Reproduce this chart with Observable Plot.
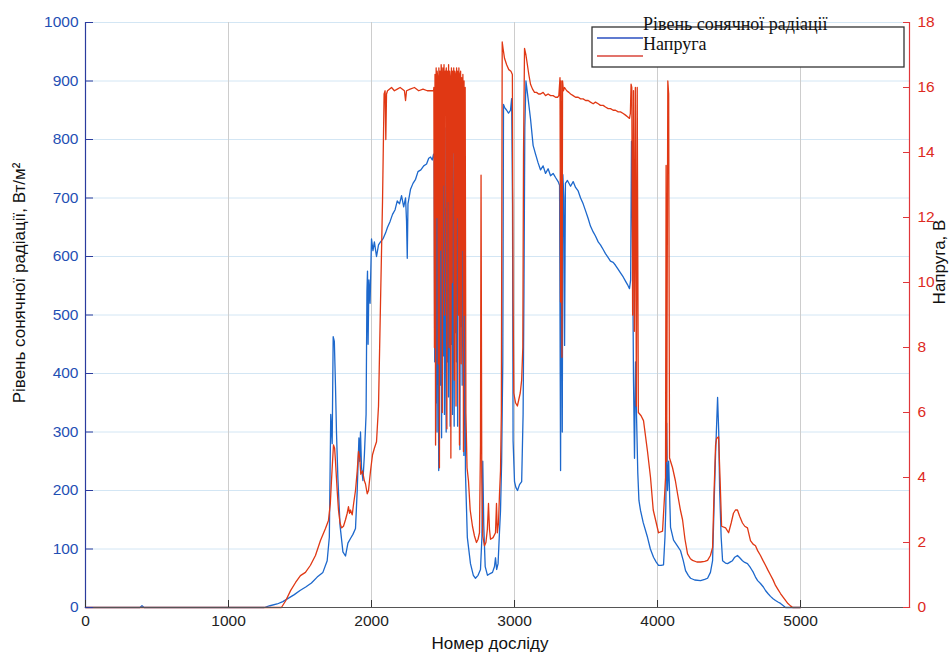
<!DOCTYPE html>
<html><head><meta charset="utf-8">
<script src="https://cdn.jsdelivr.net/npm/d3@7"></script>
<script src="https://cdn.jsdelivr.net/npm/@observablehq/plot@0.6"></script>
<style>body{margin:0;background:#fff;} #chart{position:relative;width:951px;height:654px;}</style>
</head><body><div id="chart"></div>
<script>
const xTicks = [0, 1000, 2000, 3000, 4000, 5000];
const radTicks = [0, 100, 200, 300, 400, 500, 600, 700, 800, 900, 1000];
const voltTicks = [0, 2, 4, 6, 8, 10, 12, 14, 16, 18];
const xMax = 5762, radMax = 1000, voltMax = 18;

// Рівень сонячної радіації, Вт/м² : [номер досліду, значення]
const radiation = [
[0,0],[380,0],[395,3],[410,0],[1250,0],[1290,3],[1340,6],[1380,10],[1420,16],[1460,22],[1500,29],[1540,35],
[1580,42],[1620,52],[1660,60],[1690,80],[1705,120],[1715,330],[1725,280],[1732,463],[1740,455],[1748,380],
[1755,300],[1765,220],[1780,140],[1800,95],[1818,88],[1835,110],[1853,118],[1870,125],[1888,135],[1900,200],
[1912,290],[1918,250],[1923,300],[1930,240],[1940,217],[1950,260],[1962,330],[1968,540],[1972,575],[1976,450],
[1982,560],[1990,520],[2000,630],[2010,610],[2020,625],[2035,600],[2049,620],[2063,625],[2080,630],[2098,640],
[2112,650],[2130,660],[2147,672],[2165,680],[2180,695],[2196,690],[2210,704],[2225,685],[2238,700],[2245,660],
[2250,597],[2255,690],[2273,715],[2290,725],[2308,732],[2325,745],[2345,748],[2365,755],[2385,758],[2400,768],
[2413,770],[2425,765],[2434,775],
[2438,770],[2442,420],[2446,760],[2450,350],[2454,700],[2458,300],[2462,760],[2466,520],[2470,234],[2474,640],
[2478,780],[2482,380],[2486,800],[2490,290],[2494,700],[2498,810],[2502,430],[2506,760],[2510,330],[2514,820],
[2518,500],[2522,300],[2526,830],[2530,420],[2534,780],[2538,360],[2542,835],[2546,600],[2550,310],[2554,840],
[2558,450],[2562,760],[2566,330],[2570,845],[2574,520],[2578,310],[2582,850],[2586,470],[2590,800],[2594,420],
[2598,845],[2602,310],[2606,780],[2610,560],[2614,850],[2618,270],[2622,850],[2626,480],[2630,790],[2634,380],
[2638,840],[2642,600],[2646,260],[2650,700],[2654,420],[2657,230],
[2670,120],[2692,75],[2712,55],[2727,50],[2745,55],[2762,65],[2772,120],[2778,250],[2785,140],[2795,70],
[2811,55],[2830,58],[2846,60],[2860,70],[2867,85],[2875,65],[2885,75],[2895,130],[2902,165],[2910,250],
[2918,420],[2923,860],[2930,855],[2945,850],[2958,845],[2972,850],[2980,870],[2986,690],[2990,285],[3000,215],
[3010,205],[3021,200],[3035,210],[3050,215],[3060,330],[3066,540],[3072,820],[3080,900],[3095,870],[3112,835],
[3130,790],[3147,775],[3165,760],[3182,748],[3200,755],[3217,742],[3235,750],[3252,738],[3270,742],[3287,735],
[3305,728],[3315,722],[3322,234],[3328,817],[3334,300],[3338,740],[3345,700],[3350,448],[3356,725],[3370,730],
[3392,720],[3410,728],[3427,718],[3445,712],[3462,700],[3480,690],[3497,678],[3515,665],[3531,652],[3550,642],
[3566,635],[3585,625],[3601,620],[3620,612],[3636,605],[3655,598],[3671,592],[3690,590],[3706,585],[3725,578],
[3741,572],[3760,565],[3776,558],[3790,552],[3804,545],[3812,560],[3818,797],[3825,640],[3832,388],[3839,255],
[3846,420],[3853,330],[3862,230],[3870,183],[3881,166],[3900,145],[3930,120],[3950,100],[3972,86],[3990,78],
[4007,72],[4025,72],[4042,73],[4052,120],[4058,171],[4064,315],[4070,200],[4078,250],[4091,137],[4112,115],
[4140,105],[4161,97],[4180,80],[4196,63],[4215,55],[4231,50],[4260,47],[4301,46],[4330,48],[4350,50],
[4370,60],[4385,80],[4396,180],[4406,263],[4420,359],[4428,300],[4434,205],[4445,120],[4455,80],[4475,76],
[4490,75],[4510,78],[4524,80],[4540,86],[4559,89],[4575,85],[4594,80],[4610,77],[4629,75],[4650,68],
[4670,60],[4685,52],[4700,46],[4720,41],[4740,35],[4755,29],[4772,24],[4790,19],[4808,15],[4825,12],
[4845,9],[4860,7],[4880,3],[4895,0],[5000,0]
];

// Напруга, В : [номер досліду, значення]
const voltage = [
[0,0],[1370,0],[1399,0.2],[1434,0.52],[1469,0.77],[1503,0.98],[1538,1.08],[1573,1.3],[1608,1.6],[1643,2.06],
[1678,2.43],[1699,2.68],[1712,3.2],[1720,3.9],[1734,5.0],[1742,4.9],[1748,4.5],[1760,3.6],[1769,3.0],[1780,2.6],
[1790,2.45],[1804,2.5],[1818,2.7],[1830,2.9],[1839,3.1],[1846,2.9],[1853,3.0],[1865,2.85],[1875,3.2],[1888,3.6],
[1900,4.2],[1909,4.8],[1918,4.6],[1925,4.1],[1937,4.2],[1950,3.9],[1958,3.8],[1970,3.5],[1979,3.6],[1993,4.2],
[2007,4.7],[2020,4.9],[2035,5.1],[2049,6.2],[2063,9.4],[2077,12.5],[2088,15.8],[2095,15.9],[2100,14.4],[2105,15.8],
[2112,15.9],[2140,16.0],[2160,15.9],[2180,15.95],[2200,16.0],[2230,15.9],[2238,15.6],[2245,15.9],[2270,15.95],
[2300,16.0],[2330,15.9],[2360,15.95],[2390,15.9],[2420,15.9],[2434,15.9],
[2436,16.0],[2440,8],[2444,16.4],[2448,5.0],[2452,16.6],[2456,12],[2459,16.5],[2463,16.3],[2467,7.5],[2471,16.6],
[2475,4.3],[2479,16.5],[2483,11],[2487,16.7],[2491,16.4],[2495,6],[2499,16.6],[2503,13],[2507,16.7],[2511,9],
[2515,16.5],[2519,16.4],[2523,16.6],[2527,5.5],[2531,16.5],[2535,12.5],[2539,16.7],[2543,8],[2547,16.5],[2551,16.3],
[2555,4.6],[2559,16.6],[2563,10],[2567,16.5],[2571,14],[2575,16.6],[2579,7],[2583,16.5],[2587,16.4],[2591,6.2],
[2595,16.6],[2599,12],[2603,16.5],[2607,9],[2611,16.6],[2615,5],[2619,16.4],[2623,16.5],[2627,7.5],[2631,16.3],
[2635,11],[2639,16.4],[2643,4.8],[2647,16.2],[2651,9],[2655,16.0],[2660,6.0],
[2668,4.3],[2678,3.9],[2690,3.0],[2706,2.5],[2720,2.2],[2734,2.0],[2745,2.1],[2755,2.3],[2762,5],[2766,13.3],
[2771,4],[2778,2.2],[2790,1.9],[2800,2.0],[2810,2.4],[2818,3.2],[2825,2.4],[2832,2.1],[2850,2.15],[2867,2.3],
[2874,3.2],[2880,2.3],[2888,2.6],[2895,3.5],[2902,4.2],[2908,6],[2914,17.4],[2920,17.2],[2930,16.9],[2945,16.7],
[2960,16.55],[2975,16.5],[2985,16.4],[2990,9.5],[2995,6.6],[3007,6.3],[3020,6.2],[3030,6.4],[3040,6.6],[3050,7.0],
[3058,8],[3063,14],[3070,17.2],[3080,17.0],[3090,16.7],[3100,16.4],[3112,16.1],[3126,15.95],[3140,15.85],[3154,15.85],
[3168,15.8],[3182,15.8],[3200,15.85],[3217,15.75],[3235,15.8],[3252,15.75],[3270,15.75],[3287,15.7],[3301,15.7],
[3310,15.75],[3318,16.3],[3322,9.4],[3326,16.2],[3332,7.7],[3336,16.2],[3342,15.9],[3350,16.0],[3365,15.9],
[3380,15.85],[3392,15.8],[3410,15.75],[3427,15.7],[3445,15.7],[3462,15.65],[3480,15.65],[3497,15.6],[3515,15.6],
[3531,15.55],[3550,15.5],[3566,15.55],[3585,15.5],[3601,15.45],[3620,15.45],[3636,15.4],[3655,15.35],[3671,15.35],
[3690,15.3],[3706,15.3],[3725,15.25],[3741,15.25],[3760,15.2],[3776,15.15],[3790,15.1],[3804,15.05],[3810,15.2],
[3815,16.1],[3820,16.0],[3826,9],[3832,15.9],[3838,8.5],[3845,16],[3852,6.2],[3858,16],[3866,6.0],[3885,5.9],
[3902,5.75],[3930,4.8],[3951,4.0],[3970,3.0],[3986,2.7],[4007,2.3],[4035,2.35],[4050,3.5],[4056,4.0],[4060,13.6],
[4064,4.5],[4072,16.2],[4078,15.8],[4084,4.6],[4105,4.3],[4125,3.9],[4140,3.5],[4160,3.0],[4175,2.7],[4192,2.1],
[4210,1.65],[4230,1.5],[4245,1.45],[4275,1.4],[4301,1.4],[4330,1.42],[4350,1.45],[4370,1.6],[4385,1.85],[4395,3.5],
[4406,5.0],[4413,5.2],[4427,5.25],[4437,4.0],[4448,2.5],[4476,2.45],[4497,2.3],[4515,2.6],[4531,2.9],[4545,3.0],
[4559,3.0],[4575,2.8],[4594,2.6],[4610,2.5],[4629,2.45],[4650,2.06],[4668,1.95],[4685,1.9],[4700,1.75],[4720,1.6],
[4737,1.45],[4755,1.3],[4772,1.15],[4790,1.0],[4808,0.85],[4825,0.68],[4843,0.55],[4860,0.43],[4878,0.32],
[4895,0.22],[4912,0.12],[4930,0.05],[4945,0],[5000,0]
];

const toLeft = v => v * radMax / voltMax;
const radData = radiation.map(([n, w]) => ({n, y: w}));
const voltData = voltage.map(([n, v]) => ({n, y: toLeft(v)}));

const BLUE_AX = "#2b3c9e", BLUE_TXT = "#1f4fb4", RED_AX = "#e0363a", RED_TXT = "#dd2a22";
const FONT = "'Liberation Sans', Arial, sans-serif";
const none = () => "";

const plot = Plot.plot({
  width: 951, height: 654,
  marginLeft: 85, marginRight: 42, marginTop: 22, marginBottom: 47,
  style: {fontFamily: FONT, fontSize: "15.5px", background: "#fff", overflow: "visible"},
  x: {domain: [0, xMax]},
  y: {domain: [0, radMax]},
  marks: [
    Plot.gridY(radTicks, {stroke: "#d3e6f4", strokeOpacity: 1}),
    Plot.gridX(xTicks.slice(1), {stroke: "#cdcdcd", strokeOpacity: 1}),
    Plot.line(radData, {x: "n", y: "y", stroke: "#1d68cc", strokeWidth: 1.3}),
    Plot.line(voltData, {x: "n", y: "y", stroke: "#e03814", strokeWidth: 1.3}),
    Plot.frame({anchor: "left", stroke: BLUE_AX, strokeWidth: 1.2}),
    Plot.frame({anchor: "right", stroke: RED_AX, strokeWidth: 1.2}),
    Plot.frame({anchor: "bottom", stroke: "#555", strokeWidth: 1.2}),
    // inward ticks
    Plot.axisY(radTicks, {anchor: "left", tickSize: 8, dx: 8, stroke: BLUE_AX, tickFormat: none, label: null}),
    Plot.axisY(voltTicks.map(toLeft), {anchor: "right", tickSize: 7, dx: -7, stroke: RED_AX, tickFormat: none, label: null}),
    Plot.axisX(xTicks, {anchor: "bottom", tickSize: 7, dy: -7, stroke: "#333", tickFormat: none, label: null}),
    // tick labels
    Plot.axisY(radTicks, {anchor: "left", tickSize: 0, tickPadding: 7, fill: BLUE_TXT, tickFormat: d => String(d), label: null}),
    Plot.axisY(voltTicks.map(toLeft), {anchor: "right", tickSize: 0, tickPadding: 8, fill: RED_TXT,
      tickFormat: d => String(Math.round(d * voltMax / radMax)), label: null}),
    Plot.axisX(xTicks, {anchor: "bottom", tickSize: 0, tickPadding: 7, fill: "#222", tickFormat: d => String(d), label: null})
  ]
});
document.getElementById("chart").appendChild(plot);

const svg = d3.select(plot);
const addLabel = (tr, txt) => svg.append("text").attr("transform", tr)
  .attr("text-anchor", "middle").attr("dominant-baseline", "middle")
  .style("font-family", FONT).style("font-size", "17px").attr("fill", "#111").text(txt);
addLabel("translate(21,283) rotate(-90)", "Рівень сонячної радіації, Вт/м²");
addLabel("translate(941,262) rotate(-90)", "Напруга, В");
addLabel("translate(490,645)", "Номер досліду");

// Legend
const lg = svg.append("g");
lg.append("rect").attr("x", 592).attr("y", 27).attr("width", 312).attr("height", 40)
  .attr("fill", "#fff").attr("stroke", "#333").attr("stroke-width", 1.3);
const entries = [["Рівень сонячної радіації", "#2a4fc0", 38, 30], ["Напруга", "#d8453a", 56, 50]];
for (const [label, color, ly, ty] of entries) {
  lg.append("line").attr("x1", 597).attr("x2", 643).attr("y1", ly).attr("y2", ly)
    .attr("stroke", color).attr("stroke-width", 1.3);
  lg.append("text").attr("x", 643).attr("y", ty).attr("text-anchor", "start")
    .style("font-family", "'Liberation Serif', 'Times New Roman', serif").style("font-size", "18px").attr("fill", "#111")
    .text(label);
}
</script>
</body></html>
